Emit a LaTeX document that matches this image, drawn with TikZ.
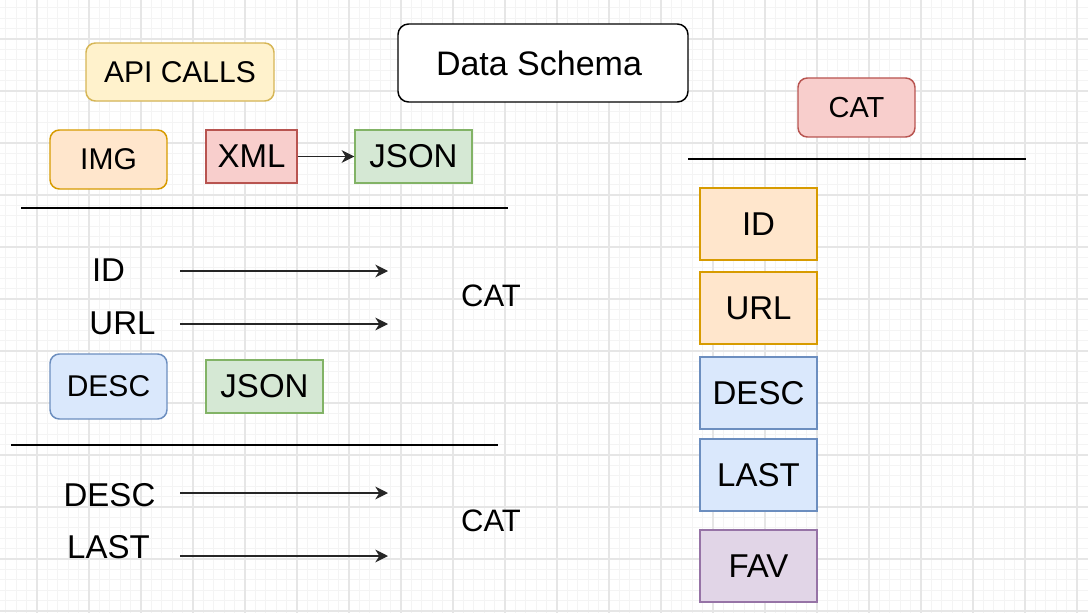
\documentclass[tikz,border=0pt]{standalone}
\usepackage{fontspec}
\setmainfont{Liberation Sans}
\usepackage{xcolor}
\usetikzlibrary{arrows.meta,positioning}
\definecolor{yelf}{HTML}{FFF2CC}
\definecolor{yeld}{HTML}{D6B656}
\definecolor{orgf}{HTML}{FFE6CC}
\definecolor{orgd}{HTML}{D79B00}
\definecolor{redf}{HTML}{F8CECC}
\definecolor{redd}{HTML}{B85450}
\definecolor{grnf}{HTML}{D5E8D4}
\definecolor{grnd}{HTML}{82B366}
\definecolor{bluf}{HTML}{DAE8FC}
\definecolor{blud}{HTML}{6C8EBF}
\definecolor{purf}{HTML}{E1D5E7}
\definecolor{purd}{HTML}{9673A6}
\definecolor{gridmin}{HTML}{F4F4F4}
\definecolor{gridmaj}{HTML}{E6E6E6}
\tikzset{
  ar/.style={-{Stealth[length=9.5pt,width=9.5pt,inset=3pt]},line width=1pt,black!85},
  sep/.style={line width=1.1pt,black},
  box/.style={draw,line width=1.1pt,inner sep=0pt,align=center,minimum width=87.75pt,font=\fontsize{24.75}{28}\selectfont},
  rbox/.style={box,rounded corners=7pt,font=\fontsize{22.5}{26}\selectfont},
  lbl/.style={font=\fontsize{24.75}{28}\selectfont,inner sep=0pt}
}
\begin{document}
\begin{tikzpicture}[x=0.75pt,y=-0.75pt]
\useasboundingbox (0,0) rectangle (1088,613);
\fill[white] (0,0) rectangle (1088,613);
\foreach \k in {0,...,104} {
  \draw[gridmin,line width=0.6pt] ({-4.6+10.4*\k},0) -- ++(0,613);
  \draw[gridmin,line width=0.6pt] (0,{-2.6+10.4*\k}) -- ++(1088,0);
}
\foreach \k in {0,...,20} {
  \draw[gridmaj,line width=0.8pt] ({37+52*\k},0) -- ++(0,613);
  \draw[gridmaj,line width=0.8pt] (0,{39+52*\k}) -- ++(1088,0);
}

\node[rbox,fill=yelf,draw=yeld,minimum width=141pt,minimum height=43.5pt] (api) at (180,72) {API CALLS};
\node[box,rounded corners=8pt,fill=white,minimum width=217.5pt,minimum height=58.5pt,font=\fontsize{25.5}{29}\selectfont] (schema) at (543,63) {\hspace*{-6pt}Data Schema};
\node[rbox,fill=orgf,draw=orgd,minimum height=44.25pt] (img) at (108.5,159.5) {IMG};
\node[box,fill=redf,draw=redd,minimum width=68.25pt,minimum height=39.75pt] (xml) at (251.5,156.5) {XML};
\node[box,fill=grnf,draw=grnd,minimum height=39.75pt] (jsona) at (413.5,156.5) {JSON};
\draw[ar] (xml) -- (jsona);
\coordinate (sepaL) at (21,208); \coordinate (sepaR) at (508,208);
\draw[sep] (sepaL) -- (sepaR);

\node[lbl] (id) at (108.5,270) {ID};
\node[lbl] (url) at (122.5,323) {URL};
\coordinate (idS) at (180,271); \coordinate (idE) at (388,271);
\coordinate (urlS) at (180,324); \coordinate (urlE) at (388,324);
\draw[ar] (idS) -- (idE);
\draw[ar] (urlS) -- (urlE);
\node[lbl,font=\fontsize{23.25}{28}\selectfont] (cata) at (491,296) {CAT};
\node[rbox,fill=bluf,draw=blud,minimum height=48.75pt] (desca) at (108.5,386.5) {DESC};
\node[box,fill=grnf,draw=grnd,minimum height=39.75pt] (jsonb) at (264.5,386.5) {JSON};
\coordinate (sepbL) at (11,445); \coordinate (sepbR) at (498,445);
\draw[sep] (sepbL) -- (sepbR);

\node[lbl] (descb) at (109.5,495) {DESC};
\node[lbl] (last) at (108.5,547) {LAST};
\coordinate (descS) at (180,493); \coordinate (descE) at (388,493);
\coordinate (lastS) at (180,556); \coordinate (lastE) at (388,556);
\draw[ar] (descS) -- (descE);
\draw[ar] (lastS) -- (lastE);
\node[lbl,font=\fontsize{23.25}{28}\selectfont] (catb) at (491,521) {CAT};

\node[rbox,fill=redf,draw=redd,minimum height=44.25pt,font=\fontsize{21.75}{26}\selectfont] (catr) at (856.5,107.5) {CAT};
\coordinate (sepcL) at (688,159); \coordinate (sepcR) at (1026,159);
\draw[sep] (sepcL) -- (sepcR);
\node[box,fill=orgf,draw=orgd,minimum height=54pt] (rid) at (758.5,224) {ID};
\node[box,fill=orgf,draw=orgd,minimum height=54pt] (rurl) at (758.5,308) {URL};
\node[box,fill=bluf,draw=blud,minimum height=54pt] (rdesc) at (758.5,393) {DESC};
\node[box,fill=bluf,draw=blud,minimum height=54pt] (rlast) at (758.5,475) {LAST};
\node[box,fill=purf,draw=purd,minimum height=54pt] (rfav) at (758.5,566) {FAV};
\end{tikzpicture}
\end{document}
